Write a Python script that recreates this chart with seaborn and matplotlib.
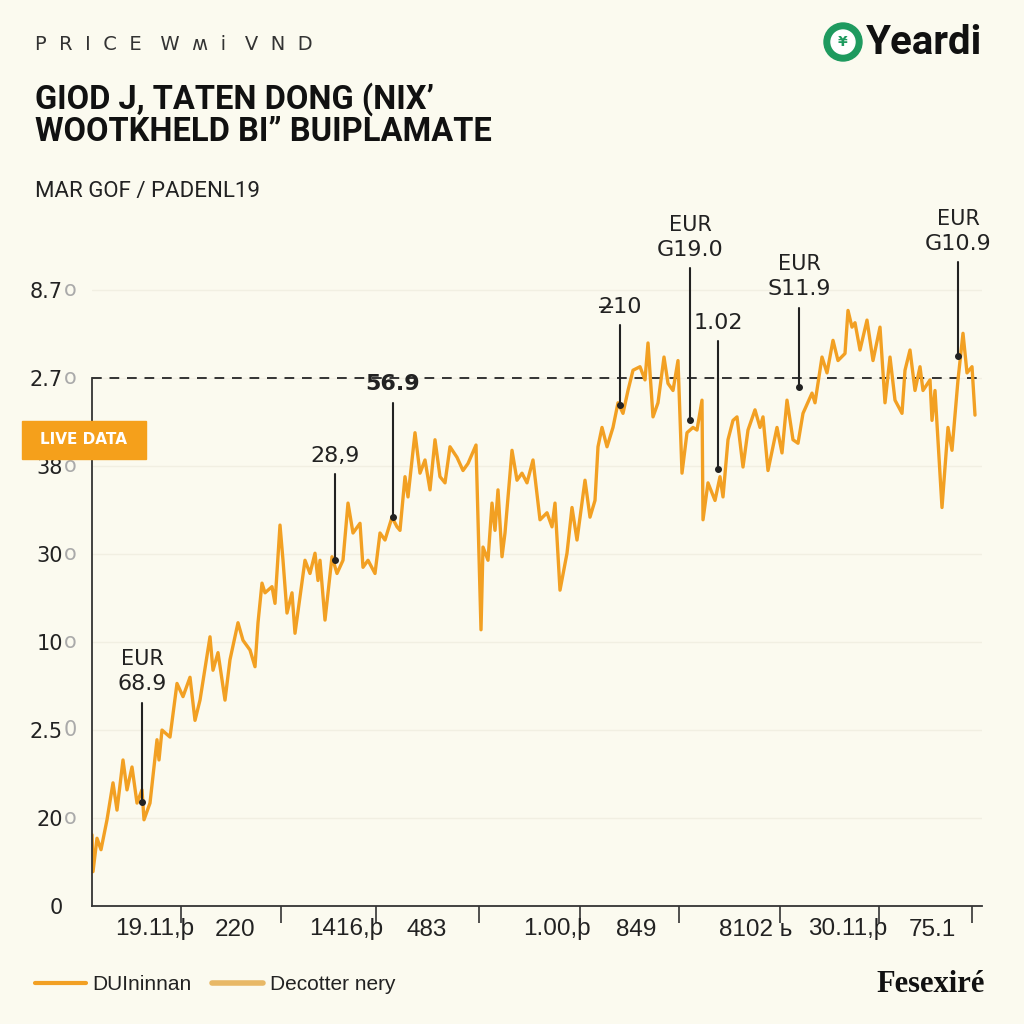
import matplotlib.pyplot as plt
import matplotlib.patches as mpatches
from matplotlib import transforms
from matplotlib.lines import Line2D
import pandas as pd
import seaborn as sns

# price series (x = time step, y = chart units)
days = [0.0, 0.4, 2.0, 3.6, 6.0, 8.4, 10.0, 12.4, 14.0, 16.0, 18.0, 20.0, 20.8, 23.2,
        26.0, 26.8, 28.0, 31.2, 34.0, 36.4, 39.2, 41.2, 43.2, 47.2, 48.4, 50.4, 53.2,
        55.2, 58.4, 60.4, 63.2, 65.2, 66.4, 68.0, 69.2, 72.0, 73.2, 75.2, 76.4, 78.0,
        80.0, 81.2, 85.2, 87.2, 89.2, 90.4, 91.2, 93.2, 96.0, 98.0, 100.4, 102.4, 104.4,
        107.2, 108.4, 110.4, 113.2, 115.2, 117.2, 120.0, 122.0, 123.2, 125.2, 126.4,
        129.2, 131.2, 133.2, 135.2, 137.2, 139.2, 141.2, 143.2, 146.0, 148.4, 150.4,
        153.6, 155.6, 156.4, 158.4, 160.0, 161.2, 162.4, 164.0, 165.2, 168.0, 170.0,
        172.0, 174.0, 176.4, 179.2, 182.0, 184.0, 185.2, 187.2, 190.0, 192.0, 194.0,
        197.2, 199.2, 201.2, 202.4, 204.0, 206.0, 208.4, 210.4, 212.4, 214.4, 216.4,
        219.2, 221.2, 222.4, 224.4, 226.4, 228.8, 230.4, 232.4, 234.4, 236.0, 238.0,
        240.4, 242.0, 244.0, 244.4, 246.4, 249.2, 251.2, 252.4, 254.4, 256.4, 258.0,
        260.4, 262.4, 265.2, 267.2, 268.4, 270.4, 274.0, 276.0, 278.0, 280.4, 282.4,
        284.4, 288.0, 289.2, 292.0, 294.0, 296.4, 298.4, 301.2, 302.4, 304.0, 305.2,
        307.2, 310.0, 312.4, 315.2, 317.2, 319.2, 321.2, 324.0, 325.2, 327.2, 329.2,
        331.2, 332.4, 335.2, 336.0, 337.2, 340.0, 342.4, 344.0, 346.4, 348.4, 350.0,
        352.0, 353.2]
price = [0.81, 0.39, 0.77, 0.64, 0.98, 1.40, 1.09, 1.66, 1.32, 1.58, 1.17, 1.32, 0.98, 1.17,
         1.89, 1.66, 2.00, 1.92, 2.53, 2.38, 2.60, 2.11, 2.34, 3.06, 2.68, 2.88, 2.34,
         2.80, 3.22, 3.02, 2.91, 2.72, 3.22, 3.67, 3.56, 3.63, 3.44, 4.33, 3.93, 3.33,
         3.56, 3.10, 3.93, 3.78, 4.01, 3.70, 3.93, 3.25, 3.97, 3.78, 3.93, 4.58, 4.24,
         4.35, 3.85, 3.93, 3.78, 4.24, 4.16, 4.42, 4.31, 4.27, 4.88, 4.65,
         5.38, 4.92, 5.07, 4.73, 5.30, 4.88, 4.81, 5.22, 5.10, 4.95, 5.03,
         5.24, 3.14, 4.08, 3.93, 4.58, 4.27, 4.73, 3.97, 4.24, 5.18, 4.84,
         4.92, 4.81, 5.07, 4.39, 4.47, 4.31, 4.58, 3.59, 4.01, 4.53, 4.16,
         4.84, 4.42, 4.61, 5.22, 5.44, 5.22, 5.44, 5.72, 5.60, 5.86, 6.09,
         6.13, 5.98, 6.40, 5.56, 5.72, 6.24, 5.94, 5.86, 6.20, 4.92, 5.38,
         5.44, 5.41, 5.75, 4.39, 4.81, 4.61, 4.88, 4.65, 5.30, 5.52, 5.56,
         4.99, 5.41, 5.64, 5.44, 5.56, 4.95, 5.44, 5.15, 5.75, 5.30, 5.26,
         5.60, 5.83, 5.72, 6.24, 6.06, 6.43, 6.20, 6.28, 6.77, 6.58, 6.63,
         6.32, 6.66, 6.20, 6.58, 5.72, 6.24, 5.75, 5.60, 6.09, 6.32, 5.86,
         6.13, 5.86, 5.98, 5.52, 5.86, 4.53, 5.44, 5.18, 5.98, 6.51, 6.06,
         6.13, 5.58]

# y axis labels as printed, last glyph shown faded
ytick_pos = [0, 1, 2, 3, 4, 5, 6, 7]
ytick_labels = ["0", "20", "2.5", "10", "30", "38", "2.7", "8.7"]
ytick_faded = ["", "o", "0", "o", "o", "o", "o", "o"]

xtick_pos = [35.6, 75.6, 113.6, 154.8, 195.2, 234.8, 275.2, 314.8, 352]
xlabel_pos = [25.2, 57.2, 101.6, 134, 186, 217.6, 265.6, 302.4, 336]
xlabel_text = ["19.11,þ", "220", "1416,þ", "483", "1.00,þ", "849", "8102 ь", "30.11,þ", "75.1"]

# callouts
ann_x = [20.0, 97.2, 120.4, 211.2, 239.2, 250.4, 282.8, 346.4]
ann_y = [1.18, 3.93, 4.42, 5.70, 5.52, 4.97, 5.90, 6.25]
ann_top = [2.31, 4.91, 5.72, 6.60, 7.25, 6.42, 6.80, 7.32]
ann_head = ["EUR", "", "", "", "EUR", "", "EUR", "EUR"]
ann_value = ["68.9", "28,9", "56.9", "2̶10", "G19.0", "1.02", "S11.9", "G10.9"]
ann_bold = [False, False, True, False, False, False, False, False]

legend_labels = ["DUIninnan", "Decotter nery"]
ref_level = 6.0

bg = "#FBFAEF"
orange = "#F2A023"
ink = "#222222"


def main():
    sns.set_theme(style="white")
    plt.rcParams["font.family"] = ["DejaVu Sans"]

    df = pd.DataFrame({"day": days, "price": price})

    fig = plt.figure(figsize=(10.24, 10.24), dpi=100, facecolor=bg)
    ax = fig.add_axes([92 / 1024, 118 / 1024, 890 / 1024, 651 / 1024])
    ax.set_facecolor(bg)

    sns.lineplot(data=df, x="day", y="price", ax=ax, color=orange, linewidth=2.4)
    ax.set_xlim(0, 356)
    ax.set_ylim(0, 7.4)
    ax.set_xlabel("")
    ax.set_ylabel("")

    ax.axhline(ref_level, color="#333333", lw=1.4, dashes=(5, 4), zorder=1)

    for side in ["top", "right"]:
        ax.spines[side].set_visible(False)
    for side in ["left", "bottom"]:
        ax.spines[side].set_color("#333333")
        ax.spines[side].set_linewidth(1.3)
    ax.spines["left"].set_bounds(0, ref_level)

    # y ticks
    ax.set_yticks(ytick_pos, ytick_labels)
    ax.tick_params(axis="y", length=0, pad=21, labelsize=15, labelcolor=ink)
    ax.grid(axis="y", color="#F1EFE2", lw=1)
    trans = transforms.blended_transform_factory(ax.transAxes, ax.transData)
    for pos, suf in zip(ytick_pos, ytick_faded):
        ax.text(-0.0315, pos, suf, transform=trans, ha="left", va="center",
                fontsize=15, color="#AAAAAA")

    # x ticks: marks and labels are offset from each other
    ax.set_xticks(xtick_pos, [""] * len(xtick_pos))
    ax.tick_params(axis="x", which="major", length=12, width=1.2, color="#333333",
                   direction="out", bottom=True)
    ax.set_xticks(xlabel_pos, xlabel_text, minor=True)
    ax.tick_params(axis="x", which="minor", length=0, pad=9, labelsize=17.5,
                   labelcolor=ink, bottom=True)
    for lab in ax.get_xticklabels(minor=True):
        lab.set_family(["Liberation Sans", "DejaVu Sans"])

    # callouts
    for x, y, top, head, val, bold in zip(ann_x, ann_y, ann_top, ann_head, ann_value, ann_bold):
        ax.plot([x, x], [y, top], color=ink, lw=1.5, zorder=4)
        ax.plot([x], [y], "o", color=ink, ms=4, zorder=5)
        ax.annotate(val, xy=(x, top), xytext=(0, 6), textcoords="offset points",
                    ha="center", va="bottom", fontsize=16, color=ink,
                    fontweight="bold" if bold else "normal", annotation_clip=False)
        if head:
            ax.annotate(head, xy=(x, top), xytext=(0, 24), textcoords="offset points",
                        ha="center", va="bottom", fontsize=15, color=ink,
                        annotation_clip=False)

    # header
    fig.text(35 / 1024, 1 - 44 / 1024, "P  R  I  C  E   W  ʍ  i   V  N  D", fontsize=14,
             color="#333333", va="center")
    fig.text(35 / 1024, 1 - 99 / 1024, "GIOD J, TATEN DONG (NIX’", fontsize=23.5,
             family="Roboto", fontweight="bold", color="#111111", va="center")
    fig.text(35 / 1024, 1 - 132 / 1024, "WOOTKHELD BI” BUIPLAMATE", fontsize=23.5,
             family="Roboto", fontweight="bold", color="#111111", va="center")
    fig.text(35 / 1024, 1 - 192 / 1024, "MAR GOF / PADENL19", fontsize=16,
             family="Roboto", color="#222222", va="center")

    # logo
    green = "#1E9A5F"
    fig.patches.append(mpatches.Circle((843 / 1024, 1 - 42 / 1024), 19 / 1024,
                                       transform=fig.transFigure, color=green))
    fig.patches.append(mpatches.Circle((843 / 1024, 1 - 42 / 1024), 12 / 1024,
                                       transform=fig.transFigure, color="white"))
    fig.text(843 / 1024, 1 - 42 / 1024, "¥", fontsize=10, color=green,
             ha="center", va="center", fontweight="bold")
    fig.text(866 / 1024, 1 - 43 / 1024, "Yeardi", fontsize=29, family="Roboto",
             fontweight="bold", color="#111111", va="center")

    # live badge
    fig.patches.append(mpatches.Rectangle((22 / 1024, 1 - 459 / 1024), 124 / 1024, 38 / 1024,
                                          transform=fig.transFigure, color="#F5A01B",
                                          zorder=3))
    fig.text(84 / 1024, 1 - 440 / 1024, "LIVE DATA", fontsize=11, fontweight="bold",
             color="white", ha="center", va="center", zorder=4)

    # legend
    handles = [Line2D([], [], color=orange, lw=3), Line2D([], [], color="#E8B866", lw=4)]
    leg = fig.legend(handles, legend_labels, loc="center left",
                     bbox_to_anchor=(35 / 1024, 1 - 985 / 1024), ncol=2, frameon=False,
                     fontsize=15, handlelength=2.45, columnspacing=1.0, handletextpad=0.3,
                     borderaxespad=0, borderpad=0)
    for t in leg.get_texts():
        t.set_family(["Liberation Sans", "DejaVu Sans"])
        t.set_color(ink)

    fig.text(985 / 1024, 1 - 985 / 1024, "Fesexiré", fontsize=22, family="Liberation Serif",
             fontweight="bold", color="#111111", ha="right", va="center")

    fig.savefig("out.png", dpi=100, facecolor=bg)


if __name__ == "__main__":
    main()
